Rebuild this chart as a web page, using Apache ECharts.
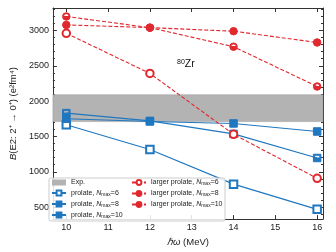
<!DOCTYPE html>
<html><head><meta charset="utf-8">
<script src="https://cdn.jsdelivr.net/npm/echarts@6/dist/echarts.min.js"></script>
<style>html,body{margin:0;padding:0;background:#fff}#c{width:336px;height:252px}</style>
</head><body><div id="c"></div>
<script>
var hw = [10, 12, 14, 16];
var prolate6 = [1665, 1315, 825, 468];
var prolate8 = [1830, 1720, 1536, 1195];
var prolate10 = [1750, 1712, 1684, 1570];
var larger6 = [2960, 2392, 1530, 907];
var larger8 = [3198, 3040, 2770, 2207];
var larger10 = [3079, 3040, 2990, 2830];
var expBand = [1710, 2090];
var xTicks = [10, 11, 12, 13, 14, 15, 16];
var yTicks = [500, 1000, 1500, 2000, 2500, 3000];
var yMinor = [400,600,700,800,900,1100,1200,1300,1400,1600,1700,1800,1900,2100,2200,2300,2400,2600,2700,2800,2900,3100,3200,3300];

var BLUE = '#1f77c0', RED = '#e0282e', AX = '#333';
var FONT = 'Liberation Sans';
var halfSquare = 'path://M0,0 L10,0 L10,10 L0,10 Z M1.4,1.4 L1.4,5 L8.6,5 L8.6,1.4 Z';
var halfCircle = 'path://M5,0 A5,5 0 1,1 5,10 A5,5 0 1,1 5,0 Z M1.3,5 L8.7,5 A3.7,3.7 0 0,0 1.3,5 Z';

function pts(ys){ return hw.map(function(x,i){ return [x, ys[i]]; }); }
function blue(name, ys, sym){
  return {name:name, type:'line', data:pts(ys), symbol:sym, symbolSize:7.5, z:2,
    lineStyle:{color:BLUE,width:1.1}, itemStyle:{color:BLUE,borderColor:BLUE,borderWidth:1}};
}
function red(name, ys, sym){
  return {name:name, type:'line', data:pts(ys), symbol:sym, symbolSize:7.5, z:3,
    lineStyle:{color:RED,width:1.1,type:[4,2]}, itemStyle:{color:RED,borderColor:RED,borderWidth:1}};
}
var rich = {
  n:{fontStyle:'italic', fontSize:7, fontFamily:FONT, color:'#222'},
  s:{fontSize:5, fontFamily:FONT, color:'#222', padding:[3,0,0,0]},
  t:{fontSize:7, fontFamily:FONT, color:'#222'}
};
function fmt(name){
  var m = name.match(/^(.*)Nmax=(\d+)$/);
  if(!m) return '{t|' + name + '}';
  return '{t|' + m[1] + '}{n|N}{s|max}{t|=' + m[2] + '}';
}
function plain(v){ return String(v); }
var xBase = {type:'value', min:9.68, max:16.14, splitLine:{show:false},
  axisLine:{lineStyle:{color:AX,width:1}}};
var yBase = {type:'value', min:330, max:3318, splitLine:{show:false}};

var chart = echarts.init(document.getElementById('c'));
chart.setOption({
  animation:false,
  grid:{left:46, top:8, right:13, bottom:28},
  xAxis:[
    Object.assign({}, xBase, {position:'bottom', name:'{i|ℏω} (MeV)', nameLocation:'middle', nameGap:16,
      nameTextStyle:{fontSize:9.5, fontFamily:FONT, color:'#222', rich:{i:{fontStyle:'italic',fontSize:9.5,fontFamily:FONT,color:'#222'}}},
      axisTick:{inside:true, length:4, customValues:xTicks, lineStyle:{color:AX}},
      axisLabel:{customValues:xTicks, formatter:plain, fontSize:9, fontFamily:FONT, color:'#222', margin:4}}),
    Object.assign({}, xBase, {position:'top',
      axisTick:{inside:true, length:4, customValues:xTicks, lineStyle:{color:AX}},
      axisLabel:{show:false}})
  ],
  yAxis:[
    Object.assign({}, yBase, {position:'left', name:'{i|B}(E2: 2⁺ → 0⁺) (e²fm⁴)', nameLocation:'middle', nameGap:25,
      nameTextStyle:{fontSize:9.5, fontFamily:FONT, color:'#222', rich:{i:{fontStyle:'italic',fontSize:9.5,fontFamily:FONT,color:'#222'}}},
      axisLine:{show:true, lineStyle:{color:AX,width:1}},
      axisTick:{inside:true, length:4, customValues:yTicks, lineStyle:{color:AX}},
      axisLabel:{customValues:yTicks, formatter:plain, fontSize:9, fontFamily:FONT, color:'#222', margin:4}}),
    Object.assign({}, yBase, {position:'left', axisLine:{show:false},
      axisTick:{inside:true, length:2, customValues:yMinor, lineStyle:{color:AX}}, axisLabel:{show:false}}),
    Object.assign({}, yBase, {position:'right', axisLine:{show:true, lineStyle:{color:AX,width:1}},
      axisTick:{inside:true, length:4, customValues:yTicks, lineStyle:{color:AX}}, axisLabel:{show:false}}),
    Object.assign({}, yBase, {position:'right', axisLine:{show:false},
      axisTick:{inside:true, length:2, customValues:yMinor, lineStyle:{color:AX}}, axisLabel:{show:false}})
  ],
  legend:[
    {orient:'vertical', left:51, top:179, itemWidth:14, itemHeight:6, itemGap:3.5, padding:0,
     formatter:fmt, textStyle:{rich:rich, fontSize:7, fontFamily:FONT},
     data:[{name:'Exp.', icon:'rect', itemStyle:{color:'#b3b3b3'}}, 'prolate, Nmax=6','prolate, Nmax=8','prolate, Nmax=10']},
    {orient:'vertical', left:131, top:179, itemWidth:14, itemHeight:6, itemGap:3.5, padding:0,
     formatter:fmt, textStyle:{rich:rich, fontSize:7, fontFamily:FONT},
     data:['larger prolate, Nmax=6','larger prolate, Nmax=8','larger prolate, Nmax=10']}
  ],
  graphic:[
    {type:'rect', z:3, shape:{x:49, y:178, width:176, height:43, r:2},
     style:{fill:'rgba(255,255,255,0.85)', stroke:'#cccccc', lineWidth:1}},
    {type:'text', z:5, left:177, top:59,
     style:{text:'{a|80}{b|Zr}', rich:{a:{fontSize:7,fontFamily:FONT,fill:'#111',padding:[0,0,4,0]}, b:{fontSize:10.5,fontFamily:FONT,fill:'#111'}}}}
  ],
  series:[
    {name:'Exp.', type:'line', data:[], itemStyle:{color:'#b3b3b3'}, z:1,
     markArea:{silent:true, itemStyle:{color:'#b3b3b3', borderColor:'#999', borderWidth:0.5},
       data:[[{yAxis:expBand[0]},{yAxis:expBand[1]}]]}},
    blue('prolate, Nmax=6', prolate6, 'emptyRect'),
    blue('prolate, Nmax=8', prolate8, halfSquare),
    blue('prolate, Nmax=10', prolate10, 'rect'),
    red('larger prolate, Nmax=6', larger6, 'emptyCircle'),
    red('larger prolate, Nmax=8', larger8, halfCircle),
    red('larger prolate, Nmax=10', larger10, 'circle')
  ]
});
</script></body></html>
